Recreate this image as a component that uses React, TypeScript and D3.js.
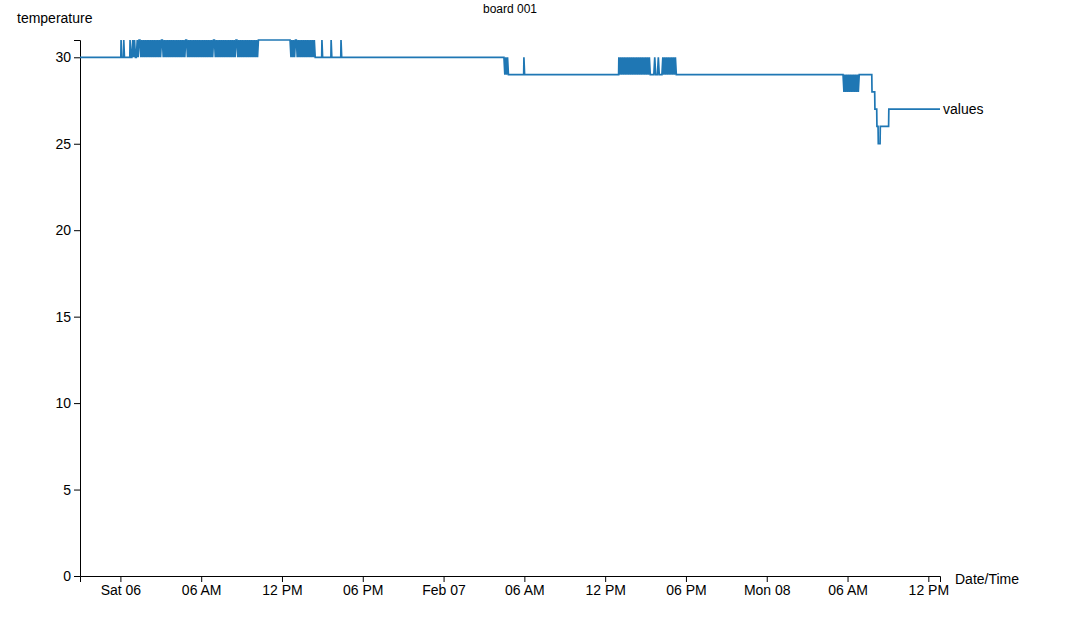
import React, { useRef, useEffect } from "react";
import * as d3 from "d3";

// Step changes of the temperature reading (time, value)
const levelChanges: [string, number][] = [
  ["2021-02-05T21:00", 30],
  ["2021-02-06T00:03", 31],
  ["2021-02-06T00:06", 30],
  ["2021-02-06T00:15", 31],
  ["2021-02-06T00:18", 30],
  ["2021-02-06T10:30", 31],
  ["2021-02-06T14:31", 30],
  ["2021-02-06T14:58", 31],
  ["2021-02-06T15:01", 30],
  ["2021-02-06T15:39", 31],
  ["2021-02-06T15:42", 30],
  ["2021-02-06T16:23", 31],
  ["2021-02-06T16:26", 30],
  ["2021-02-07T04:56", 29],
  ["2021-02-07T05:58", 30],
  ["2021-02-07T06:01", 29],
  ["2021-02-07T17:20", 29],
  ["2021-02-08T06:55", 29],
  ["2021-02-08T07:49", 28],
  ["2021-02-08T08:02", 27],
  ["2021-02-08T08:11", 26],
  ["2021-02-08T08:17", 25],
  ["2021-02-08T08:26", 26],
  ["2021-02-08T09:04", 27],
  ["2021-02-08T12:52", 27],
];

// Bursts of flickering readings: start, base value, readings every 4 minutes (digit = offset above base)
const burstStarts: string[] = [
  "2021-02-06T00:43",
  "2021-02-06T12:36",
  "2021-02-07T04:29",
  "2021-02-07T13:01",
  "2021-02-08T05:40",
];
const burstBases: number[] = [30, 30, 29, 29, 28];
const burstPatterns: string[] = [
  "1001010010110" +
    "10101010101010101010101101010101010101010101010101101010101010" +
    "10101010101010101011010101010101010101010101101010101010101010" +
    "1010101",
  "10101011010101010101010101010",
  "1010100",
  "10101010101010101010101010101010101" + "00000100010000" + "1010101010101010",
  "1010101010101010101",
];

const yTicks = [0, 5, 10, 15, 20, 25, 30];
const yMax = 31;
const chartTitle = "board 001";
const yLabel = "temperature";
const xLabel = "Date/Time";
const seriesName = "values";

const parse = d3.timeParse("%Y-%m-%dT%H:%M");

type Pt = { t: Date; v: number };

function buildSeries(): Pt[] {
  const pts: Pt[] = levelChanges.map(([s, v]) => ({ t: parse(s) as Date, v }));
  burstStarts.forEach((s, i) => {
    const start = parse(s) as Date;
    burstPatterns[i].split("").forEach((c, j) => {
      pts.push({ t: d3.timeMinute.offset(start, j * 4), v: burstBases[i] + Number(c) });
    });
  });
  pts.sort((a, b) => +a.t - +b.t);
  // a reading holds its value until the next reading arrives
  const out: Pt[] = [];
  pts.forEach((p, i) => {
    if (i > 0) {
      const prev = pts[i - 1];
      if (prev.v !== p.v && +p.t - +prev.t > 5 * 60000) {
        out.push({ t: d3.timeMinute.offset(p.t, -1), v: prev.v });
      }
    }
    out.push(p);
  });
  return out;
}

export default function App() {
  const ref = useRef<SVGSVGElement | null>(null);

  useEffect(() => {
    const svg = d3.select(ref.current);
    svg.selectAll("*").remove();
    const left = 80,
      top = 40,
      right = 940,
      bottom = 576;
    const data = buildSeries();
    const x = d3
      .scaleTime()
      .domain(d3.extent(data, (d) => d.t) as [Date, Date])
      .range([left, right]);
    const y = d3.scaleLinear().domain([0, yMax]).range([bottom, top]);

    const font = "'Liberation Sans', Arial, sans-serif";

    const gx = svg
      .append("g")
      .attr("transform", `translate(0,${bottom})`)
      .call(d3.axisBottom(x));
    gx.selectAll("text").attr("font-size", 14).attr("font-family", font).attr("fill", "#000");
    gx.selectAll("line,path").attr("stroke", "#000");

    const gy = svg
      .append("g")
      .attr("transform", `translate(${left},0)`)
      .call(d3.axisLeft(y).tickValues(yTicks));
    gy.selectAll("text").attr("font-size", 14).attr("font-family", font).attr("fill", "#000");
    gy.selectAll("line,path").attr("stroke", "#000");

    const line = d3
      .line<Pt>()
      .x((d) => x(d.t))
      .y((d) => y(d.v));

    svg
      .append("path")
      .datum(data)
      .attr("d", line)
      .attr("fill", "none")
      .attr("stroke", "#1f77b4")
      .attr("stroke-width", 1.7);

    const last = data[data.length - 1];
    svg
      .append("text")
      .attr("x", x(last.t) + 3)
      .attr("y", y(last.v) + 5)
      .attr("font-size", 14)
      .attr("font-family", font)
      .text(seriesName);

    svg
      .append("text")
      .attr("x", (left + right) / 2)
      .attr("y", 13)
      .attr("text-anchor", "middle")
      .attr("font-size", 12)
      .attr("font-family", font)
      .text(chartTitle);

    svg
      .append("text")
      .attr("x", 17)
      .attr("y", 23)
      .attr("font-size", 14)
      .attr("font-family", font)
      .text(yLabel);

    svg
      .append("text")
      .attr("x", 955)
      .attr("y", 584)
      .attr("font-size", 14)
      .attr("font-family", font)
      .text(xLabel);
  }, []);

  return (
    <svg
      ref={ref}
      width={1092}
      height={635}
      style={{ position: "absolute", left: 0, top: 0, background: "#fff" }}
    />
  );
}
